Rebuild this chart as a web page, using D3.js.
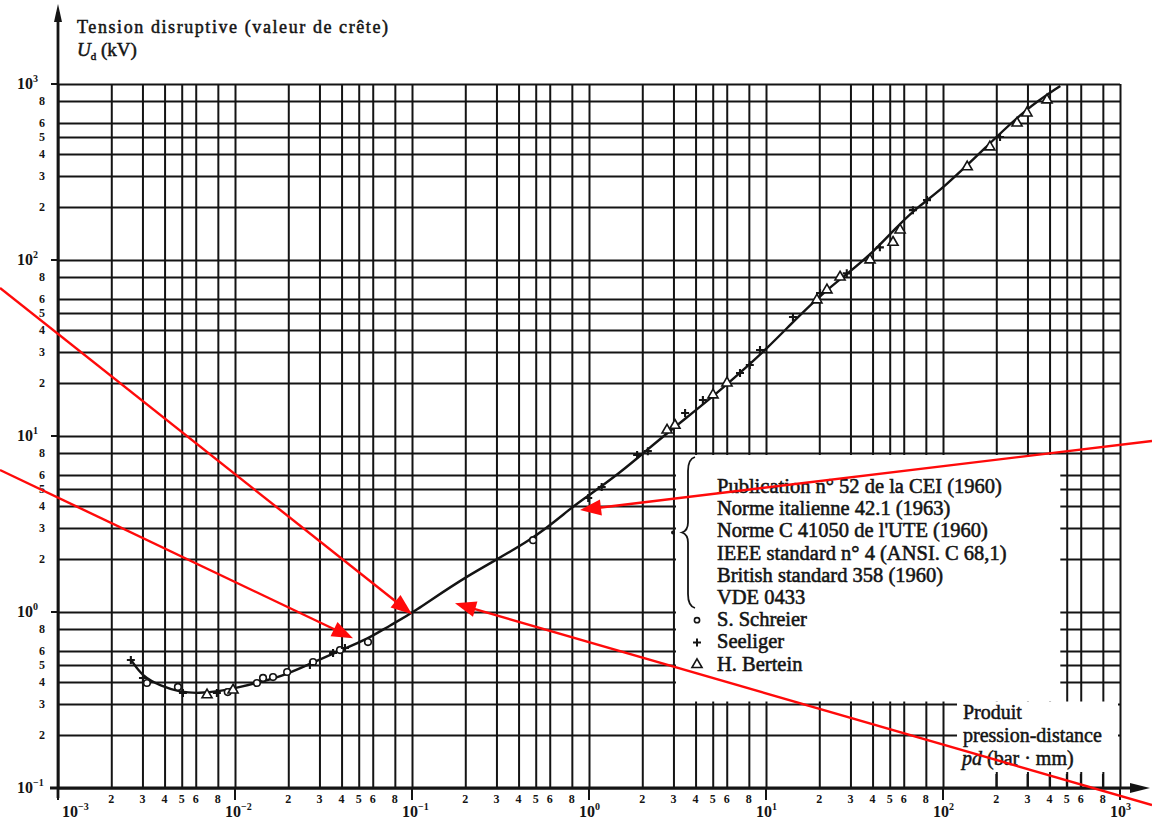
<!DOCTYPE html>
<html>
<head>
<meta charset="utf-8">
<script src="https://cdn.jsdelivr.net/npm/d3@7"></script>
<style>
  body { margin: 0; background: #fff; }
  svg { display: block; }
  text { font-family: "Liberation Serif", "Times New Roman", serif; fill: #141414; }
</style>
</head>
<body>
<svg id="chart" width="1152" height="825"></svg>
<script>
// Breakdown voltage of air vs. pressure-distance product (Paschen curve)
const curvePd = [0.0026, 0.003, 0.0038, 0.0049, 0.0063, 0.0082, 0.0107, 0.014, 0.02, 0.028, 0.04, 0.056, 0.075, 0.1, 0.2, 0.48, 0.8, 1.0, 1.5, 2.0, 2.9, 5.0, 7.1, 10, 15, 21, 29, 40, 55, 74, 100, 175, 292, 460];
const curveU  = [0.53, 0.43, 0.38, 0.35, 0.345, 0.355, 0.375, 0.40, 0.445, 0.52, 0.61, 0.70, 0.84, 0.98, 1.6, 2.55, 3.95, 4.6, 6.2, 7.9, 10.8, 16.7, 22.8, 31, 47, 65, 84, 110, 155, 205, 255, 438, 720, 975];

// Measurements: S. Schreier (circles)
const schreierPd = [0.00318, 0.00476, 0.0091, 0.0133, 0.0144, 0.0164, 0.0197, 0.0276, 0.0392, 0.0564, 0.483];
const schreierU  = [0.395, 0.375, 0.351, 0.395, 0.422, 0.427, 0.456, 0.52, 0.608, 0.675, 2.56];
// Measurements: Seeliger (crosses)
const seeligerPd = [0.00258, 0.00302, 0.00508, 0.0079, 0.0265, 0.0358, 0.0418, 0.99, 1.18, 1.87, 2.15, 3.49, 4.4, 7.13, 8.1, 9.25, 14.2, 20.2, 28.6, 44, 67.6, 81.2, 210];
const seeligerU  = [0.534, 0.422, 0.347, 0.347, 0.50, 0.585, 0.625, 4.44, 5.13, 7.8, 8.2, 13.5, 16, 22.8, 25.3, 30.8, 47.4, 65, 84, 118, 192, 219, 500];
// Measurements: H. Bertein (triangles)
const berteinPd = [0.00695, 0.00975, 2.76, 3.06, 5.02, 6.02, 19.4, 22.1, 26.2, 38.7, 52.2, 57.2, 137, 184, 262, 298, 387];
const berteinU  = [0.338, 0.36, 10.8, 11.5, 17.1, 20, 59.3, 67.6, 80, 100, 126, 148, 338, 439, 600, 684, 811];

// Log paper: decades and the printed subdivisions
const xDecades = [-3, -2, -1, 0, 1, 2, 3];
const yDecades = [-1, 0, 1, 2, 3];
const subdivisions = [2, 3, 4, 5, 6, 8];

const yTitle = "Tension disruptive (valeur de crête)";
const xTitleLines = ["Produit", "pression-distance"];
const standardsList = [
  "Publication n° 52 de la CEI (1960)",
  "Norme italienne 42.1 (1963)",
  "Norme C 41050 de l'UTE (1960)",
  "IEEE standard n° 4 (ANSI. C 68,1)",
  "British standard 358 (1960)",
  "VDE 0433"
];
const seriesNames = ["S. Schreier", "Seeliger", "H. Bertein"];

// Red pointers: points on the curve they indicate
const pointerTargetsPd = [0.1, 0.0464, 0.89, 0.175];
const pointerTargetsU  = [0.97, 0.71, 3.8, 1.12];

const svg = d3.select("#chart");
const W = 1152, H = 825;

const x = d3.scaleLog().domain([1e-3, 1e3]).range([58, 1120]);
const y = d3.scaleLog().domain([0.1, 1e3]).range([788, 84]);

const x0 = x.range()[0], x1 = x.range()[1];
const yBot = y.range()[0], yTop = y.range()[1];

const gridVals = (decades) => {
  const v = [];
  decades.forEach((k, i) => {
    v.push(Math.pow(10, k));
    if (i < decades.length - 1) subdivisions.forEach(m => v.push(m * Math.pow(10, k)));
  });
  return v;
};
const xGrid = gridVals(xDecades);
const yGrid = gridVals(yDecades);

const ink = "#141414";

// grid
const gxAxis = svg.append("g")
  .attr("transform", `translate(0,${yBot})`)
  .call(d3.axisBottom(x).tickValues(xGrid).tickSize(-(yBot - yTop)).tickFormat(""));
gxAxis.select(".domain").remove();
gxAxis.selectAll("line").attr("stroke", ink).attr("stroke-width", 2);

const gyAxis = svg.append("g")
  .attr("transform", `translate(${x0},0)`)
  .call(d3.axisLeft(y).tickValues(yGrid).tickSize(-(x1 - x0)).tickFormat(""));
gyAxis.select(".domain").remove();
gyAxis.selectAll("line").attr("stroke", ink).attr("stroke-width", 2);

// decade ticks outside the frame
svg.append("g").selectAll("line").data(xDecades).join("line")
  .attr("x1", d => x(Math.pow(10, d))).attr("x2", d => x(Math.pow(10, d)))
  .attr("y1", yBot).attr("y2", yBot + 12)
  .attr("stroke", ink).attr("stroke-width", 2);
svg.append("g").selectAll("line").data(yDecades).join("line")
  .attr("x1", x0 - 7).attr("x2", x0)
  .attr("y1", d => y(Math.pow(10, d))).attr("y2", d => y(Math.pow(10, d)))
  .attr("stroke", ink).attr("stroke-width", 2);

// blank panels for the legend and x title
const legLeft = x(3.1), legRight = x(460), legTop = y(7.8), legBottom = y(0.31);
svg.append("rect").attr("x", legLeft).attr("y", legTop)
  .attr("width", legRight - legLeft).attr("height", legBottom - legTop).attr("fill", "#fff");
const tBoxLeft = x(120), tBoxTop = legBottom, tBoxBottom = yBot - 16;
svg.append("rect").attr("x", tBoxLeft).attr("y", tBoxTop)
  .attr("width", x1 - 2 - tBoxLeft).attr("height", tBoxBottom - tBoxTop).attr("fill", "#fff");
// short ticks along the axis under the x title
const shortTickVals = subdivisions.map(m => m * 100);
svg.append("g").selectAll("line").data(shortTickVals).join("line")
  .attr("x1", d => x(d)).attr("x2", d => x(d))
  .attr("y1", yBot - 14).attr("y2", yBot)
  .attr("stroke", ink).attr("stroke-width", 1.8);

// axes with arrows
svg.append("line").attr("x1", x0).attr("x2", x0).attr("y1", yBot + 10).attr("y2", 12)
  .attr("stroke", ink).attr("stroke-width", 2.8);
svg.append("path").attr("d", `M${x0},4 L${x0 - 4},22 L${x0 + 4},22 Z`).attr("fill", ink);
svg.append("line").attr("x1", x0 - 8).attr("x2", 1138).attr("y1", yBot).attr("y2", yBot)
  .attr("stroke", ink).attr("stroke-width", 2.8);
svg.append("path").attr("d", `M1150,${yBot} L1130,${yBot - 5} L1130,${yBot + 5} Z`).attr("fill", ink);

// tick labels
const supLabel = (sel, k) => {
  sel.append("tspan").text("10");
  sel.append("tspan").attr("dy", -7).attr("font-size", 10).text(k < 0 ? "−" + (-k) : String(k));
};
xDecades.forEach(k => {
  const px = Math.max(x(Math.pow(10, k)) - 10, x0 + 4);
  const t = svg.append("text").attr("x", px).attr("y", 817)
    .attr("font-size", 16).attr("font-weight", "bold");
  supLabel(t, k);
});
xDecades.slice(0, -1).forEach(k => {
  subdivisions.forEach(m => {
    svg.append("text").attr("x", x(m * Math.pow(10, k))).attr("y", 803)
      .attr("text-anchor", "middle").attr("font-size", 12).attr("font-weight", "bold")
      .text(m);
  });
});
yDecades.forEach(k => {
  const t = svg.append("text").attr("x", 17).attr("y", y(Math.pow(10, k)) + 5)
    .attr("font-size", 16).attr("font-weight", "bold");
  supLabel(t, k);
});
yDecades.slice(0, -1).forEach(k => {
  subdivisions.forEach(m => {
    svg.append("text").attr("x", 42).attr("y", y(m * Math.pow(10, k)) + 4)
      .attr("text-anchor", "middle").attr("font-size", 12).attr("font-weight", "bold")
      .text(m);
  });
});

// axis titles
svg.append("text").attr("x", 77).attr("y", 33).attr("font-size", 18)
  .attr("stroke", ink).attr("stroke-width", 0.5)
  .attr("textLength", 311).attr("lengthAdjust", "spacing").text(yTitle);
const ut = svg.append("text").attr("x", 77).attr("y", 56).attr("font-size", 19)
  .attr("stroke", ink).attr("stroke-width", 0.5);
ut.append("tspan").attr("font-style", "italic").text("U");
ut.append("tspan").attr("dy", 4).attr("font-size", 11).text("d");
ut.append("tspan").attr("dy", -4).text(" (kV)");

xTitleLines.forEach((s, i) => {
  svg.append("text").attr("x", tBoxLeft + 6).attr("y", 719 + i * 23).attr("font-size", 20)
    .attr("stroke", ink).attr("stroke-width", 0.5).text(s);
});
const pdt = svg.append("text").attr("x", tBoxLeft + 5).attr("y", 765).attr("font-size", 20)
  .attr("stroke", ink).attr("stroke-width", 0.5);
pdt.append("tspan").attr("font-style", "italic").text("pd");
pdt.append("tspan").text(" (bar · mm)");

// Paschen curve
const pts = curvePd.map((p, i) => [x(p), y(curveU[i])]);
svg.append("path").attr("d", d3.line().curve(d3.curveBasis)(pts))
  .attr("fill", "none").attr("stroke", ink).attr("stroke-width", 2.4);

// measurement markers
const markers = svg.append("g").attr("stroke", ink).attr("stroke-width", 1.6);
markers.selectAll(".sch").data(schreierPd).join("circle")
  .attr("cx", d => x(d)).attr("cy", (d, i) => y(schreierU[i])).attr("r", 3.3).attr("fill", "#fff");
markers.selectAll(".see").data(seeligerPd).join("path")
  .attr("transform", (d, i) => `translate(${x(d)},${y(seeligerU[i])})`)
  .attr("d", "M-4,0H4M0,-4V4").attr("fill", "none").attr("stroke-width", 2.1);
const tri = d3.symbol().type(d3.symbolTriangle).size(44);
markers.selectAll(".ber").data(berteinPd).join("path")
  .attr("transform", (d, i) => `translate(${x(d)},${y(berteinU[i])})`)
  .attr("d", tri).attr("fill", "#fff");

// legend
const legX = 717, legY0 = 493, legStep = 22.2;
const legendText = (s, i) => svg.append("text").attr("x", legX).attr("y", legY0 + i * legStep)
  .attr("font-size", 20.5).attr("stroke", ink).attr("stroke-width", 0.55).text(s);
standardsList.forEach((s, i) => legendText(s, i));
seriesNames.forEach((s, i) => legendText(s, i + 6));
const symY = i => legY0 + (i + 6) * legStep - 6;
svg.append("circle").attr("cx", 697).attr("cy", symY(0)).attr("r", 2.6)
  .attr("fill", "#fff").attr("stroke", ink).attr("stroke-width", 1.6);
svg.append("path").attr("transform", `translate(697,${symY(1)})`).attr("d", "M-4,0H4M0,-4V4")
  .attr("stroke", ink).attr("stroke-width", 2);
svg.append("path").attr("transform", `translate(697,${symY(2)})`).attr("d", tri)
  .attr("fill", "#fff").attr("stroke", ink).attr("stroke-width", 1.6);

// brace grouping the standards
const bTop = legTop + 2, bBot = legY0 + 5 * legStep + 4, bMid = (bTop + bBot) / 2;
svg.append("path")
  .attr("d", `M695,${bTop} Q688,${bTop + 2} 688,${bTop + 14} L688,${bMid - 10} Q688,${bMid - 2} 682,${bMid} Q688,${bMid + 2} 688,${bMid + 10} L688,${bBot - 14} Q688,${bBot - 2} 695,${bBot}`)
  .attr("fill", "none").attr("stroke", ink).attr("stroke-width", 1.8);
svg.append("circle").attr("cx", 673).attr("cy", bMid).attr("r", 2).attr("fill", ink);

// red pointers
const pointerTails = [[0, 288], [0, 470], [W, 441], [W, 805]];
const red = "#ff0a0a";
pointerTargetsPd.forEach((p, i) => {
  const tip = [x(p), y(pointerTargetsU[i])];
  const tail = pointerTails[i];
  const dx = tip[0] - tail[0], dy = tip[1] - tail[1];
  const len = Math.hypot(dx, dy), ux = dx / len, uy = dy / len;
  const hl = 21, hw = 8;
  const bx = tip[0] - ux * hl, by = tip[1] - uy * hl;
  svg.append("line").attr("x1", tail[0]).attr("y1", tail[1]).attr("x2", bx + ux * 2).attr("y2", by + uy * 2)
    .attr("stroke", red).attr("stroke-width", 2.4);
  svg.append("path")
    .attr("d", `M${tip[0]},${tip[1]} L${bx - uy * hw},${by + ux * hw} L${bx + uy * hw},${by - ux * hw} Z`)
    .attr("fill", red);
});
</script>
</body>
</html>
